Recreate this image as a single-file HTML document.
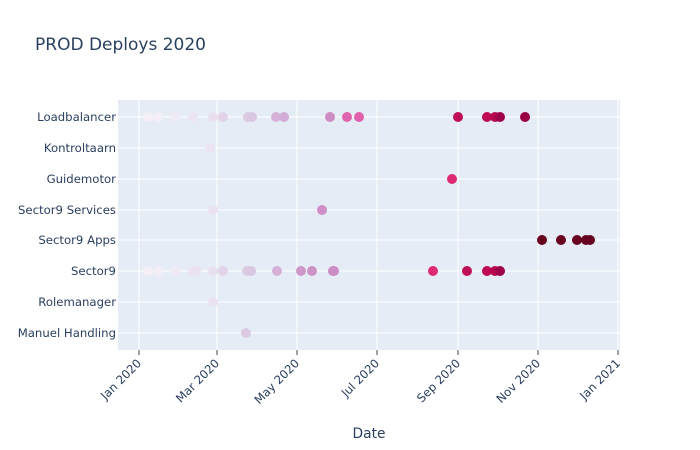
<!DOCTYPE html>
<html><head><meta charset="utf-8"><style>body{margin:0;background:#fff}svg{display:block;font-family:"DejaVu Sans",sans-serif}</style></head><body>
<svg width="700" height="450" xmlns="http://www.w3.org/2000/svg">
<rect width="700" height="450" fill="#fff"/>
<text x="35" y="50" font-size="17" fill="#2a3f5f">PROD Deploys 2020</text>
<rect x="118" y="100" width="502" height="250" fill="#e5ecf6"/>
<g stroke="#fff" stroke-width="1">
<line x1="139" y1="100" x2="139" y2="350"/><line x1="217" y1="100" x2="217" y2="350"/><line x1="297" y1="100" x2="297" y2="350"/><line x1="377" y1="100" x2="377" y2="350"/><line x1="458" y1="100" x2="458" y2="350"/><line x1="538" y1="100" x2="538" y2="350"/><line x1="618" y1="100" x2="618" y2="350"/>
<line x1="118" y1="117" x2="620" y2="117"/><line x1="118" y1="148" x2="620" y2="148"/><line x1="118" y1="179" x2="620" y2="179"/><line x1="118" y1="210" x2="620" y2="210"/><line x1="118" y1="240" x2="620" y2="240"/><line x1="118" y1="271" x2="620" y2="271"/><line x1="118" y1="302" x2="620" y2="302"/><line x1="118" y1="333" x2="620" y2="333"/>
</g>
<g stroke="#444" stroke-width="1">
<line x1="139" y1="350" x2="139" y2="355"/><line x1="217" y1="350" x2="217" y2="355"/><line x1="297" y1="350" x2="297" y2="355"/><line x1="377" y1="350" x2="377" y2="355"/><line x1="458" y1="350" x2="458" y2="355"/><line x1="538" y1="350" x2="538" y2="355"/><line x1="618" y1="350" x2="618" y2="355"/>
</g>
<g font-size="11.7" fill="#2a3f5f" text-anchor="end">
<text x="116" y="121">Loadbalancer</text><text x="116" y="152">Kontroltaarn</text><text x="116" y="183">Guidemotor</text><text x="116" y="214">Sector9 Services</text><text x="116" y="244">Sector9 Apps</text><text x="116" y="275">Sector9</text><text x="116" y="306">Rolemanager</text><text x="116" y="337">Manuel Handling</text>
<text transform="translate(142,364) rotate(-45)">Jan 2020</text>
<text transform="translate(220,364) rotate(-45)">Mar 2020</text>
<text transform="translate(300,364) rotate(-45)">May 2020</text>
<text transform="translate(380,364) rotate(-45)">Jul 2020</text>
<text transform="translate(461,364) rotate(-45)">Sep 2020</text>
<text transform="translate(541,364) rotate(-45)">Nov 2020</text>
<text transform="translate(621,364) rotate(-45)">Jan 2021</text>
</g>
<text x="369" y="438" font-size="13.8" fill="#2a3f5f" text-anchor="middle">Date</text>
<g>
<circle cx="148" cy="117" r="5" fill="#f4eff7"/><circle cx="158" cy="117" r="5" fill="#f3eef6"/><circle cx="175" cy="117" r="5" fill="#f0eaf4"/><circle cx="193" cy="117" r="5" fill="#ece4f0"/><circle cx="213" cy="117" r="5" fill="#e9e0ee"/><circle cx="223" cy="117" r="5" fill="#e2d3e8"/><circle cx="248" cy="117" r="5" fill="#dccae3"/><circle cx="252" cy="117" r="5" fill="#dac7e2"/><circle cx="276" cy="117" r="5" fill="#d5b1d8"/><circle cx="284" cy="117" r="5" fill="#d3acd6"/><circle cx="330" cy="117" r="5" fill="#cd8cc4"/><circle cx="347" cy="117" r="5" fill="#e064ae"/><circle cx="359" cy="117" r="5" fill="#e060ae"/>
<circle cx="458" cy="117" r="5" fill="#c10f55"/><circle cx="487" cy="117" r="5" fill="#bd0a51"/><circle cx="495" cy="117" r="5" fill="#b6064e"/><circle cx="500" cy="117" r="5" fill="#a0004a"/><circle cx="525" cy="117" r="5" fill="#9a0046"/>
<circle cx="210" cy="148" r="5" fill="#ece4f0"/>
<circle cx="452" cy="179" r="5" fill="#dd2a73"/>
<circle cx="213" cy="210" r="5" fill="#eae3ef"/><circle cx="322" cy="210" r="5" fill="#cf8ec6"/>
<circle cx="542" cy="240" r="5" fill="#680020"/><circle cx="561" cy="240" r="5" fill="#680020"/><circle cx="577" cy="240" r="5" fill="#680020"/><circle cx="586" cy="240" r="5" fill="#680020"/><circle cx="590" cy="240" r="5" fill="#680020"/>
<circle cx="148" cy="271" r="5" fill="#f4eff7"/><circle cx="158" cy="271" r="5" fill="#f3eef6"/><circle cx="175" cy="271" r="5" fill="#f0eaf4"/><circle cx="193" cy="271" r="5" fill="#ece4f0"/><circle cx="196" cy="271" r="5" fill="#ebe2ef"/><circle cx="213" cy="271" r="5" fill="#e9e0ee"/><circle cx="223" cy="271" r="5" fill="#e2d3e8"/><circle cx="247" cy="271" r="5" fill="#dccae3"/><circle cx="251" cy="271" r="5" fill="#dac7e2"/><circle cx="277" cy="271" r="5" fill="#d5b1d8"/><circle cx="301" cy="271" r="5" fill="#ce97c8"/><circle cx="312" cy="271" r="5" fill="#cd92c6"/><circle cx="333" cy="271" r="5" fill="#cc8cc4"/><circle cx="334" cy="271" r="5" fill="#cc8cc4"/>
<circle cx="433" cy="271" r="5" fill="#df2a73"/><circle cx="467" cy="271" r="5" fill="#c10f55"/><circle cx="487" cy="271" r="5" fill="#bd0a51"/><circle cx="495" cy="271" r="5" fill="#b6064e"/><circle cx="500" cy="271" r="5" fill="#a0004a"/>
<circle cx="213" cy="302" r="5" fill="#eae3ef"/>
<circle cx="246" cy="333" r="5" fill="#dccae3"/>
</g>
</svg>
</body></html>
